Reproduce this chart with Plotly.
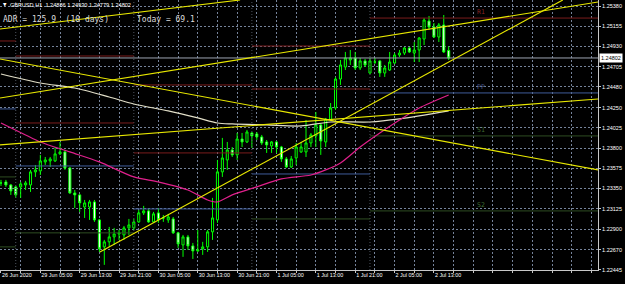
import plotly.graph_objects as go

# ---------------- data ----------------
bars = list(range(92))  # H1 bars, 26 Jun 21:00 ... 2 Jul 16:00

opens = [1.23412, 1.23423, 1.23390, 1.23368, 1.23368, 1.23390, 1.23390, 1.23535, 1.23546, 1.23646,
         1.23657, 1.23657, 1.23735, 1.23757, 1.23579, 1.23301, 1.23279, 1.23145, 1.23145, 1.23201,
         1.23001, 1.22701, 1.22757, 1.22812, 1.22845, 1.22834, 1.22912, 1.22912, 1.22979, 1.23079,
         1.23101, 1.22979, 1.23079, 1.23023, 1.23001, 1.23012, 1.22857, 1.22723, 1.22812, 1.22712,
         1.22656, 1.22679, 1.22701, 1.22868, 1.23001, 1.23535, 1.23668, 1.23779, 1.23724, 1.23901,
         1.23868, 1.23968, 1.23957, 1.23924, 1.23868, 1.23824, 1.23868, 1.23812, 1.23679, 1.23590,
         1.23690, 1.23757, 1.23757, 1.23857, 1.23935, 1.24057, 1.23868, 1.24113, 1.24246, 1.24568,
         1.24702, 1.24780, 1.24802, 1.24691, 1.24769, 1.24635, 1.24757, 1.24769, 1.24635, 1.24668,
         1.24746, 1.24835, 1.24857, 1.24913, 1.24857, 1.24891, 1.25013, 1.25213, 1.25146, 1.25035,
         1.25169, 1.24886]
highs = [1.23446, 1.23446, 1.23401, 1.23379, 1.23423, 1.23435, 1.23557, 1.23612, 1.23724, 1.23701,
         1.23701, 1.23812, 1.23868, 1.23779, 1.23590, 1.23334, 1.23290, 1.23223, 1.23223, 1.23223,
         1.23012, 1.22779, 1.22923, 1.22912, 1.22890, 1.22934, 1.23012, 1.23012, 1.23112, 1.23157,
         1.23123, 1.23090, 1.23134, 1.23056, 1.23068, 1.23034, 1.22868, 1.22834, 1.22834, 1.22745,
         1.22890, 1.22757, 1.22890, 1.23246, 1.23668, 1.23913, 1.23868, 1.23812, 1.23968, 1.23968,
         1.24002, 1.23979, 1.23979, 1.23946, 1.23890, 1.23879, 1.23879, 1.23824, 1.23701, 1.23712,
         1.23857, 1.23868, 1.24113, 1.23968, 1.24201, 1.24079, 1.24135, 1.24301, 1.24591, 1.24780,
         1.24869, 1.24891, 1.24869, 1.24802, 1.24791, 1.24802, 1.24802, 1.24780, 1.24724, 1.24869,
         1.24857, 1.24891, 1.24924, 1.24924, 1.24980, 1.25035, 1.25247, 1.25269, 1.25191, 1.25191,
         1.25280, 1.24930]
lows = [1.23379, 1.23368, 1.23279, 1.23246, 1.23246, 1.23334, 1.23312, 1.23479, 1.23501, 1.23612,
        1.23590, 1.23646, 1.23724, 1.23557, 1.23290, 1.23134, 1.23090, 1.23023, 1.23001, 1.22979,
        1.22645, 1.22501, 1.22701, 1.22723, 1.22779, 1.22779, 1.22834, 1.22890, 1.22968, 1.23056,
        1.22968, 1.22968, 1.22968, 1.22979, 1.22968, 1.22845, 1.22690, 1.22590, 1.22667, 1.22567,
        1.22645, 1.22612, 1.22645, 1.22779, 1.22968, 1.23479, 1.23557, 1.23701, 1.23668, 1.23812,
        1.23857, 1.23801, 1.23890, 1.23835, 1.23746, 1.23746, 1.23746, 1.23646, 1.23579, 1.23579,
        1.23612, 1.23746, 1.23701, 1.23812, 1.23812, 1.23724, 1.23812, 1.24102, 1.24224, 1.24502,
        1.24668, 1.24724, 1.24668, 1.24668, 1.24702, 1.24624, 1.24735, 1.24591, 1.24591, 1.24657,
        1.24735, 1.24813, 1.24835, 1.24857, 1.24757, 1.24757, 1.24946, 1.25113, 1.25024, 1.24980,
        1.24857, 1.24779]
closes = [1.23412, 1.23390, 1.23323, 1.23279, 1.23401, 1.23412, 1.23535, 1.23557, 1.23657, 1.23668,
          1.23679, 1.23735, 1.23757, 1.23579, 1.23301, 1.23279, 1.23190, 1.23190, 1.23201, 1.23001,
          1.22679, 1.22757, 1.22812, 1.22845, 1.22857, 1.22912, 1.22945, 1.22979, 1.23079, 1.23101,
          1.22979, 1.23068, 1.23001, 1.23023, 1.23034, 1.22857, 1.22734, 1.22812, 1.22712, 1.22656,
          1.22667, 1.22701, 1.22868, 1.23023, 1.23535, 1.23690, 1.23779, 1.23724, 1.23901, 1.23868,
          1.23979, 1.23935, 1.23924, 1.23857, 1.23835, 1.23868, 1.23812, 1.23679, 1.23590, 1.23679,
          1.23812, 1.23812, 1.23857, 1.23946, 1.24057, 1.23879, 1.24124, 1.24246, 1.24568, 1.24724,
          1.24802, 1.24802, 1.24691, 1.24769, 1.24724, 1.24769, 1.24757, 1.24635, 1.24691, 1.24757,
          1.24835, 1.24857, 1.24913, 1.24869, 1.24891, 1.25024, 1.25224, 1.25146, 1.25035, 1.25169,
          1.24869, 1.24802]

label_bars = [0, 8, 16, 24, 32, 40, 48, 56, 64, 72, 80, 88]
time_labels = ["26 Jun 2020", "29 Jun 05:00", "29 Jun 13:00", "29 Jun 21:00", "30 Jun 05:00",
               "30 Jun 13:00", "30 Jun 21:00", "1 Jul 05:00", "1 Jul 13:00", "1 Jul 21:00",
               "2 Jul 05:00", "2 Jul 13:00"]

price_ticks = [1.25380, 1.25155, 1.24930, 1.24705, 1.24480, 1.24250, 1.24025,
               1.23800, 1.23575, 1.23350, 1.23125, 1.22900, 1.22670, 1.22445]

# moving averages (sampled along the drawn curves)
ma_pink_bars = [0, 5, 8, 14, 20, 27, 32, 38, 42, 44, 47, 52, 57, 63, 66, 69, 73, 77, 81, 85, 91]
ma_pink = [1.24079, 1.23946, 1.23868, 1.23757, 1.23646, 1.23479, 1.23423, 1.23334, 1.23223, 1.23201,
           1.23279, 1.23368, 1.23457, 1.23501, 1.23557, 1.23635, 1.23812, 1.23968, 1.24113, 1.24246,
           1.24391]
ma_cream_bars = [0, 8, 15, 22, 27, 34, 40, 44, 47, 54, 61, 67, 75, 81, 91]
ma_cream = [1.24624, 1.24524, 1.24468, 1.24368, 1.24290, 1.24213, 1.24135, 1.24079, 1.24068,
            1.24057, 1.24046, 1.24090, 1.24090, 1.24124, 1.24213]

# trend lines: (bar, price) anchors
trend_start_bar = [-0.2, -0.2, -0.2, 20.1, -0.2]
trend_start_price = [1.25124, 1.24791, 1.23835, 1.22645, 1.24357]
trend_end_bar = [48.6, 121.35, 121.35, 114.2, 121.35]
trend_end_price = [1.25447, 1.23557, 1.24346, 1.25447, 1.25424]

# daily pivot levels (26 Jun, 29 Jun, 30 Jun, 1 Jul, 2 Jul)
day_start = [-21, 3, 27, 51, 75]
day_end = [3, 27, 51, 75, 130]
piv_r2 = [None, 1.24824, 1.24502, 1.24935, None]
piv_r1 = [1.24991, 1.24079, 1.23746, 1.24457, 1.25246]
piv_pp = [1.24235, 1.23601, 1.23123, 1.23512, 1.24413]
piv_s1 = [1.23479, 1.22857, None, 1.23012, 1.23935]
piv_s2 = [1.22701, None, None, None, 1.23101]
piv_label_bar = 97.6

last_price = 1.24802
header_text = "GBPUSD,H1  1.24886 1.24930 1.24779 1.24802"
adr_text = "ADR = 125.9\u00a0\u00a0(10 days)"
today_text = "Today = 69.1"

# ---------------- figure ----------------
Y_LO, Y_HI = 1.22444, 1.254467
X_LO, X_HI = -0.2, 121.35
PLOT_W, PLOT_H = 598, 270

fig = go.Figure()

fig.add_trace(go.Candlestick(
    x=bars, open=opens, high=highs, low=lows, close=closes,
    increasing=dict(line=dict(color="#00ff00", width=1), fillcolor="#000000"),
    decreasing=dict(line=dict(color="#00ff00", width=1), fillcolor="#ffffff"),
    whiskerwidth=0, hoverinfo="skip", showlegend=False))

# period separators
sx, sy = [], []
for d in day_start[1:]:
    sx += [d, d, None]
    sy += [Y_LO, Y_HI, None]
fig.add_trace(go.Scatter(x=sx, y=sy, mode="lines",
                         line=dict(color="#4f5560", width=1, dash="1px,2px"),
                         hoverinfo="skip", showlegend=False))

# bid line
fig.add_trace(go.Scatter(x=[X_LO, X_HI], y=[last_price, last_price], mode="lines",
                         line=dict(color="#9ea4b2", width=1), hoverinfo="skip", showlegend=False))


def pivot_trace(levels, color):
    xs, ys = [], []
    for a, b, v in zip(day_start, day_end, levels):
        if v is None:
            continue
        xs += [a, b, None]
        ys += [v, v, None]
    return go.Scatter(x=xs, y=ys, mode="lines", line=dict(color=color, width=1),
                      hoverinfo="skip", showlegend=False)


R_COL, P_COL, S_COL = "#7a1c1c", "#3f5c9a", "#2e4d22"
fig.add_trace(pivot_trace(piv_r2, R_COL))
fig.add_trace(pivot_trace(piv_r1, R_COL))
fig.add_trace(pivot_trace(piv_pp, P_COL))
fig.add_trace(pivot_trace(piv_s1, S_COL))
fig.add_trace(pivot_trace(piv_s2, S_COL))

# moving averages
fig.add_trace(go.Scatter(x=ma_cream_bars, y=ma_cream, mode="lines",
                         line=dict(color="#e2dfc8", width=1.2, shape="spline", smoothing=0.8),
                         hoverinfo="skip", showlegend=False))
fig.add_trace(go.Scatter(x=ma_pink_bars, y=ma_pink, mode="lines",
                         line=dict(color="#e0208c", width=1.2, shape="spline", smoothing=0.8),
                         hoverinfo="skip", showlegend=False))

# trend lines
for xa, ya, xb, yb in zip(trend_start_bar, trend_start_price, trend_end_bar, trend_end_price):
    fig.add_trace(go.Scatter(x=[xa, xb], y=[ya, yb], mode="lines",
                             line=dict(color="#e8e800", width=1.1),
                             hoverinfo="skip", showlegend=False))

tick_bars = list(range(0, 121, 4))
tick_text = [time_labels[label_bars.index(b)] if b in label_bars else "" for b in tick_bars]

GRID = "#75839a"
fig.update_layout(
    width=625, height=284,
    margin=dict(l=0, r=27, t=0, b=14, pad=0),
    paper_bgcolor="#000000", plot_bgcolor="#000000",
    showlegend=False, boxgap=0.4,
    xaxis=dict(range=[X_LO, X_HI], tickmode="array", tickvals=tick_bars, ticktext=tick_text,
               showgrid=True, gridcolor=GRID, gridwidth=1, griddash="2px,2px",
               ticks="outside", ticklen=2, tickcolor="#c8c8c8", tickangle=0,
               ticklabelposition="outside right",
               tickfont=dict(family="Liberation Sans", size=5.4, color="#ffffff"),
               showline=True, linecolor="#c8c8c8", linewidth=1, mirror=True,
               zeroline=False, rangeslider=dict(visible=False), fixedrange=True),
    yaxis=dict(range=[Y_LO, Y_HI], side="right", tickmode="array", tickvals=price_ticks,
               ticktext=[f"{p:.5f}" for p in price_ticks],
               showgrid=True, gridcolor=GRID, gridwidth=1, griddash="2px,2px",
               ticks="outside", ticklen=2, tickcolor="#c8c8c8",
               tickfont=dict(family="Liberation Sans", size=5.5, color="#ffffff"),
               showline=True, linecolor="#c8c8c8", linewidth=1, mirror=True,
               zeroline=False, fixedrange=True),
)

ann = []
ann.append(dict(xref="paper", yref="paper", x=2 / PLOT_W, y=1 - 5 / PLOT_H, text="\u25bc",
                showarrow=False, xanchor="left", yanchor="middle",
                font=dict(family="DejaVu Sans", size=4.5, color="#ffffff"), borderpad=0))
ann.append(dict(xref="paper", yref="paper", x=9 / PLOT_W, y=1 - 5 / PLOT_H, text=header_text.replace("  ", "\u00a0\u00a0"),
                showarrow=False, xanchor="left", yanchor="middle",
                font=dict(family="Liberation Sans", size=5.6, color="#ffffff"), borderpad=0))
ann.append(dict(xref="paper", yref="paper", x=2 / PLOT_W, y=1 - 19 / PLOT_H, text=adr_text,
                showarrow=False, xanchor="left", yanchor="middle",
                font=dict(family="DejaVu Sans Mono", size=8, color="#dcdcdc"), borderpad=0))
ann.append(dict(xref="paper", yref="paper", x=136 / PLOT_W, y=1 - 19 / PLOT_H, text=today_text,
                showarrow=False, xanchor="left", yanchor="middle",
                font=dict(family="DejaVu Sans Mono", size=8, color="#dcdcdc"), borderpad=0))
for name, lvl, col in [("R1", piv_r1[-1], "#8a2424"), ("PP", piv_pp[-1], "#4a5c8e"),
                       ("S1", piv_s1[-1], "#3c6a30"), ("S2", piv_s2[-1], "#3c6a30")]:
    ann.append(dict(x=piv_label_bar, y=lvl, xref="x", yref="y", text=name, showarrow=False,
                    xanchor="center", yanchor="bottom", yshift=1, borderpad=0,
                    font=dict(family="DejaVu Sans Mono", size=6.5, color=col)))
ann.append(dict(xref="paper", yref="y", x=1, y=last_price, text=f"{last_price:.5f}",
                showarrow=False, xanchor="left", yanchor="middle", xshift=1,
                bgcolor="#ffffff", borderpad=1,
                font=dict(family="Liberation Sans", size=5.5, color="#000000")))
fig.update_layout(annotations=ann)

fig.write_html("out.html")
